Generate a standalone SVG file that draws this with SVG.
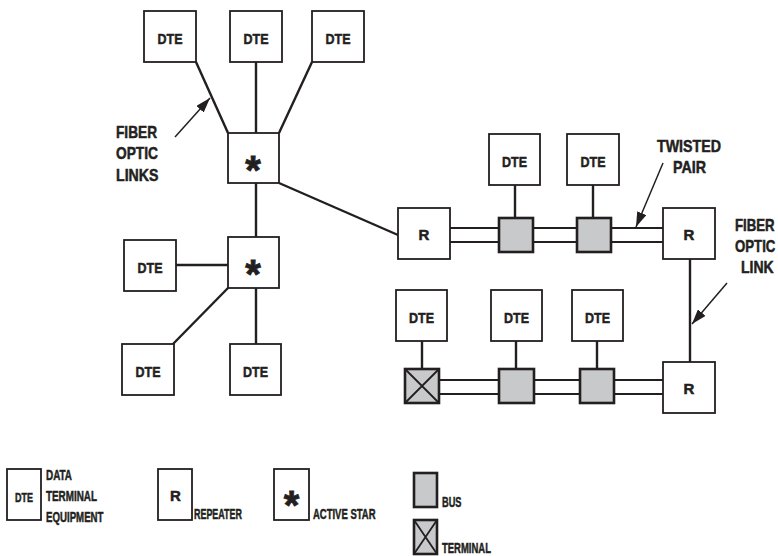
<svg xmlns="http://www.w3.org/2000/svg" width="778" height="556" viewBox="0 0 778 556">
<style>
.box{fill:#fff;stroke:#231f20;stroke-width:1.8}
.bus{fill:#c8c9cb;stroke:#231f20;stroke-width:2.6}
.ln{stroke:#231f20;stroke-width:2.4;fill:none}
.rail{stroke:#231f20;stroke-width:2.2;fill:none}
.arr{stroke:#231f20;stroke-width:1.5;fill:none;marker-end:url(#ah)}
text{font-family:"Liberation Sans Narrow","Liberation Sans",Arial,sans-serif;font-weight:bold;fill:#231f20;stroke:#231f20;stroke-width:0.5}
.t{font-size:15px;text-anchor:middle}
.lb{font-size:16.5px}
.rl{font-family:"Liberation Sans",Arial,sans-serif;font-size:16.5px}
.lg{font-size:15px}
.ast{font-family:"Liberation Sans",Arial,sans-serif;font-size:40px;text-anchor:middle;stroke-width:0.8}
</style>
<defs>
<marker id="ah" markerUnits="userSpaceOnUse" viewBox="0 0 15 10" refX="15" refY="5" markerWidth="15" markerHeight="10" orient="auto">
<path d="M0,0 L15,5 L0,10 z" fill="#231f20"/>
</marker>
</defs>

<g id="connectors">
<line class="ln" x1="196" y1="62" x2="228" y2="133"/>
<line class="ln" x1="256" y1="62" x2="256" y2="133"/>
<line class="ln" x1="312" y1="62" x2="279" y2="133"/>
<line class="ln" x1="256" y1="183" x2="256" y2="237"/>
<line class="ln" x1="279" y1="183" x2="398" y2="235"/>
<line class="ln" x1="176" y1="265" x2="228" y2="265"/>
<line class="ln" x1="173" y1="344" x2="228" y2="288"/>
<line class="ln" x1="256" y1="288" x2="256" y2="344"/>
<line class="ln" x1="515" y1="185" x2="515" y2="218"/>
<line class="ln" x1="593" y1="185" x2="593" y2="218"/>
<line class="ln" x1="690" y1="259" x2="690" y2="362"/>
<line class="ln" x1="422" y1="341" x2="422" y2="369"/>
<line class="ln" x1="516" y1="341" x2="516" y2="369"/>
<line class="ln" x1="597" y1="341" x2="597" y2="369"/>
<path class="rail" d="M450,228 H499 M450,242 H499 M533,228 H577 M533,242 H577 M611,228 H663 M611,242 H663"/>
<path class="rail" d="M440,380 H499 M440,394 H499 M534,380 H580 M534,394 H580 M614,380 H663 M614,394 H663"/>
<line class="arr" x1="175" y1="137" x2="210" y2="98"/>
<line class="arr" x1="663" y1="163" x2="636" y2="227"/>
<line class="arr" x1="727" y1="283" x2="692" y2="324"/>
</g>

<g id="labels">
<text class="lb" x="116" y="138" textLength="41" lengthAdjust="spacingAndGlyphs">FIBER</text>
<text class="lb" x="116" y="159" textLength="42" lengthAdjust="spacingAndGlyphs">OPTIC</text>
<text class="lb" x="116" y="181" textLength="42.5" lengthAdjust="spacingAndGlyphs">LINKS</text>
<text class="lb" x="657" y="152" textLength="64" lengthAdjust="spacingAndGlyphs">TWISTED</text>
<text class="lb" x="673" y="173" textLength="33" lengthAdjust="spacingAndGlyphs">PAIR</text>
<text class="rl" transform="translate(735,231) scale(0.8,1)">FIBER</text>
<text class="rl" transform="translate(735,252) scale(0.8,1)">OPTIC</text>
<text class="rl" transform="translate(741,273) scale(0.85,1)">LINK</text>
</g>

<g id="dte1"><rect class="box" x="144" y="11" width="52" height="51"/><text class="t" x="170" y="44" textLength="25" lengthAdjust="spacingAndGlyphs">DTE</text></g>
<g id="dte2"><rect class="box" x="230" y="11" width="52" height="51"/><text class="t" x="256" y="44" textLength="25" lengthAdjust="spacingAndGlyphs">DTE</text></g>
<g id="dte3"><rect class="box" x="312" y="11" width="52" height="51"/><text class="t" x="338" y="44" textLength="25" lengthAdjust="spacingAndGlyphs">DTE</text></g>
<g id="star1"><rect class="box" x="228" y="133" width="51" height="50"/><text class="ast" x="253" y="184">*</text></g>
<g id="star2"><rect class="box" x="228" y="237" width="51" height="51"/><text class="ast" x="253" y="288">*</text></g>
<g id="dte4"><rect class="box" x="124" y="240" width="52" height="51"/><text class="t" x="150" y="273" textLength="25" lengthAdjust="spacingAndGlyphs">DTE</text></g>
<g id="dte5"><rect class="box" x="122" y="344" width="52" height="51"/><text class="t" x="148" y="377" textLength="25" lengthAdjust="spacingAndGlyphs">DTE</text></g>
<g id="dte6"><rect class="box" x="230" y="344" width="51" height="51"/><text class="t" x="255.5" y="377" textLength="25" lengthAdjust="spacingAndGlyphs">DTE</text></g>

<g id="r1"><rect class="box" x="398" y="208" width="52" height="51"/><text class="t" x="424" y="240">R</text></g>
<g id="r2"><rect class="box" x="663" y="208" width="52" height="51"/><text class="t" x="689" y="240">R</text></g>
<g id="r3"><rect class="box" x="663" y="362" width="52" height="51"/><text class="t" x="689" y="394">R</text></g>

<g id="dte7"><rect class="box" x="489" y="134" width="51" height="51"/><text class="t" x="514.5" y="167" textLength="25" lengthAdjust="spacingAndGlyphs">DTE</text></g>
<g id="dte8"><rect class="box" x="567" y="134" width="52" height="51"/><text class="t" x="593" y="167" textLength="25" lengthAdjust="spacingAndGlyphs">DTE</text></g>
<g id="bus1"><rect class="bus" x="499" y="218" width="34" height="34"/></g>
<g id="bus2"><rect class="bus" x="577" y="218" width="34" height="34"/></g>

<g id="dte9"><rect class="box" x="396" y="290" width="51" height="51"/><text class="t" x="421.5" y="323" textLength="25" lengthAdjust="spacingAndGlyphs">DTE</text></g>
<g id="dte10"><rect class="box" x="491" y="290" width="51" height="51"/><text class="t" x="516.5" y="323" textLength="25" lengthAdjust="spacingAndGlyphs">DTE</text></g>
<g id="dte11"><rect class="box" x="572" y="290" width="51" height="51"/><text class="t" x="597.5" y="323" textLength="25" lengthAdjust="spacingAndGlyphs">DTE</text></g>
<g id="term1"><rect class="bus" x="405" y="369" width="34" height="34"/><path class="ln" style="stroke-width:1.8" d="M405,369 L439,403 M439,369 L405,403"/></g>
<g id="bus3"><rect class="bus" x="499" y="369" width="35" height="34"/></g>
<g id="bus4"><rect class="bus" x="580" y="369" width="34" height="34"/></g>

<g id="legend-dte"><rect class="box" x="7" y="469" width="34" height="51"/><text class="t" style="font-size:12.5px" x="24" y="502" textLength="18" lengthAdjust="spacingAndGlyphs">DTE</text>
<text class="lg" x="46" y="480" textLength="26" lengthAdjust="spacingAndGlyphs">DATA</text>
<text class="lg" x="46" y="501" textLength="51" lengthAdjust="spacingAndGlyphs">TERMINAL</text>
<text class="lg" x="46" y="522" textLength="57.5" lengthAdjust="spacingAndGlyphs">EQUIPMENT</text></g>
<g id="legend-r"><rect class="box" x="158" y="469" width="34" height="51"/><text class="t" x="175.5" y="501">R</text>
<text class="lg" x="194" y="519" textLength="48" lengthAdjust="spacingAndGlyphs">REPEATER</text></g>
<g id="legend-star"><rect class="box" x="274" y="469" width="35" height="51"/><text class="ast" x="291.5" y="519">*</text>
<text class="lg" x="313" y="519" textLength="62.5" lengthAdjust="spacingAndGlyphs">ACTIVE STAR</text></g>
<g id="legend-bus"><rect class="bus" x="414" y="473" width="23" height="34"/>
<text class="lg" x="442" y="507" textLength="19.5" lengthAdjust="spacingAndGlyphs">BUS</text></g>
<g id="legend-term"><rect class="bus" x="414" y="520" width="23" height="34"/><path class="ln" style="stroke-width:1.8" d="M414,520 L437,554 M437,520 L414,554"/>
<text class="lg" x="442" y="553" textLength="49" lengthAdjust="spacingAndGlyphs">TERMINAL</text></g>
</svg>
